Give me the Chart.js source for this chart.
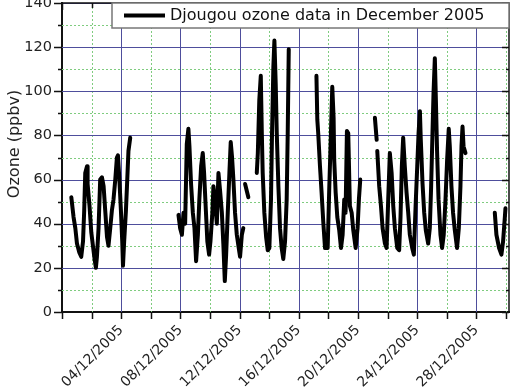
<!DOCTYPE html>
<html>
<head>
<meta charset="utf-8">
<script src="https://cdn.jsdelivr.net/npm/chart.js@4.4.1/dist/chart.umd.min.js"></script>
<style>
  html, body { margin: 0; padding: 0; background: #fff; }
  #wrap { width: 516px; height: 388px; }
</style>
</head>
<body>
<div id="wrap"><canvas id="chart"></canvas></div>
<script>
// day of December 2005 (0 = start of the axis), ozone in ppbv; null = no data
const days = [
  0.63, 0.78, 0.90, 1.01, 1.17, 1.30, 1.42, 1.50, 1.57, 1.69, 1.73, 1.86, 1.98, 2.09, 2.20,
  2.29, 2.36, 2.47, 2.58, 2.70, 2.81, 2.92, 3.04, 3.14, 3.26, 3.37, 3.48, 3.60, 3.71, 3.78,
  3.87, 3.98, 4.07, 4.12, 4.20, 4.32, 4.39, 4.49, 4.61,
  6.20,
  7.87, 7.98, 8.10, 8.21, 8.32, 8.43, 8.54, 8.61, 8.72, 8.84, 8.95, 9.06, 9.18, 9.28, 9.40,
  9.51, 9.60, 9.72, 9.82, 9.94, 10.03, 10.16, 10.23, 10.34, 10.46, 10.57, 10.68, 10.80, 10.90,
  11.00, 11.09, 11.20, 11.31, 11.40, 11.49, 11.58, 11.69, 11.81, 11.94, 12.03, 12.15, 12.25,
  12.31,
  12.37, 12.59,
  12.90,
  13.16, 13.23, 13.33, 13.43, 13.50, 13.56, 13.67, 13.79, 13.90, 14.01, 14.12, 14.19, 14.28,
  14.35, 14.44, 14.51, 14.62, 14.73, 14.84, 14.95, 15.07, 15.18, 15.25, 15.32,
  16.20,
  17.19, 17.25, 17.31, 17.43, 17.54, 17.65, 17.77, 17.95, 18.06, 18.17, 18.26, 18.35, 18.39,
  18.49, 18.60, 18.73, 18.85, 18.96, 19.07, 19.16, 19.25, 19.34, 19.45, 19.57, 19.68, 19.84,
  19.97, 20.06, 20.15,
  20.60,
  21.14, 21.26,
  21.28,
  21.30, 21.43, 21.55, 21.66, 21.82, 21.93, 22.04, 22.15, 22.27, 22.38, 22.49, 22.65, 22.78,
  22.87, 22.96, 23.05, 23.16, 23.28, 23.39, 23.50, 23.66, 23.77, 23.89, 24.00, 24.09, 24.18,
  24.24, 24.36, 24.47, 24.58, 24.74, 24.85, 24.94, 25.03, 25.10, 25.19, 25.26, 25.34, 25.44,
  25.57, 25.68, 25.79, 25.91, 26.02, 26.13, 26.20, 26.31, 26.42, 26.54, 26.69, 26.81, 26.92,
  26.99, 27.06, 27.13, 27.26,
  28.20,
  29.24, 29.35, 29.53, 29.69, 29.80, 29.92, 29.96
];
const ozone = [
  52, 43, 38, 31, 27, 25, 32, 46, 63, 66, 58, 48, 36, 30, 24,
  20, 25, 38, 60, 61, 57, 46, 34, 30, 38, 46, 51, 60, 70, 71,
  61, 46, 32, 21, 32, 46, 57, 73, 79,
  null,
  44, 38, 35, 45, 40, 76, 83, 75, 58, 45, 38, 23, 35, 51, 66,
  72, 63, 46, 32, 26, 32, 45, 57, 51, 40, 63, 55, 45, 31,
  14, 26, 45, 63, 77, 70, 60, 45, 35, 29, 25, 35, 38,
  null,
  58, 52,
  null,
  63, 72, 96, 107, 81, 63, 45, 34, 28, 29, 51, 81, 111,
  123, 103, 81, 57, 38, 29, 24, 32, 51, 81, 119,
  null,
  107, 87, 81, 66, 54, 41, 29, 29, 57, 81, 102, 88, 69,
  54, 43, 37, 29, 35, 51, 45, 82, 81, 48, 45, 37, 29,
  38, 51, 60,
  null,
  88, 78,
  null,
  73, 57, 48, 38, 31, 29, 51, 72, 63, 48, 38, 29, 28,
  43, 66, 79, 66, 54, 45, 35, 29, 26, 48, 66, 81, 91,
  78, 58, 45, 37, 31, 38, 57, 81, 99, 115, 96, 73, 51,
  35, 29, 35, 51, 69, 83, 75, 57, 45, 37, 29, 38, 57,
  75, 84, 75, 72,
  null,
  45, 35, 29, 26, 32, 43, 47
];
const seriesLabel = 'Djougou ozone data in December 2005';
const yTitle = 'Ozone (ppbv)';
const majorDayStep = 4;
const majorOzoneStep = 20;

const majorGrid = '#4e4e9c';
const minorGrid = '#7fcc7f';
const clear = 'rgba(0,0,0,0)';

function isMajor(v, step) {
  return Math.round(v) % step === 0;
}

function dayLabel(v) {
  if (v === 0 || !isMajor(v, majorDayStep)) return '';
  return String(Math.round(v)).padStart(2, '0') + '/12/2005';
}

function crisp(p) {
  return Math.round(p) + 0.5;
}

// grid: solid blue at labelled ticks, dotted green half way between
const gridPlugin = {
  id: 'gridLines',
  beforeDatasetsDraw(chart) {
    const { ctx, chartArea: a, scales: { x, y } } = chart;
    ctx.save();
    ctx.lineWidth = 1;
    [false, true].forEach(major => {
      ctx.strokeStyle = major ? majorGrid : minorGrid;
      ctx.setLineDash(major ? [] : [2, 2]);
      ctx.beginPath();
      x.ticks.forEach(t => {
        if (isMajor(t.value, majorDayStep) !== major || t.value === 0) return;
        const px = crisp(x.getPixelForValue(t.value));
        ctx.moveTo(px, a.top);
        ctx.lineTo(px, a.bottom);
      });
      y.ticks.forEach(t => {
        if (isMajor(t.value, majorOzoneStep) !== major || t.value === 0) return;
        const py = crisp(y.getPixelForValue(t.value));
        ctx.moveTo(a.left, py);
        ctx.lineTo(a.right, py);
      });
      ctx.stroke();
    });
    ctx.restore();
  }
};

const framePlugin = {
  id: 'frame',
  afterDraw(chart) {
    const { ctx, chartArea: a, scales: { x, y } } = chart;
    ctx.save();
    ctx.setLineDash([]);
    ctx.strokeStyle = '#111';
    ctx.lineWidth = 1.5;
    ctx.beginPath();
    ctx.moveTo(a.left, a.top);
    ctx.lineTo(a.right, a.top);
    ctx.lineTo(a.right, a.bottom);
    ctx.stroke();

    // tick marks: outward on the left and bottom, inward on the top and right
    ctx.beginPath();
    y.ticks.forEach(t => {
      const py = crisp(y.getPixelForValue(t.value));
      const len = isMajor(t.value, majorOzoneStep) ? 8 : 4;
      ctx.moveTo(a.left - len, py);
      ctx.lineTo(a.left, py);
      ctx.moveTo(a.right, py);
      ctx.lineTo(a.right - len + 1, py);
    });
    x.ticks.forEach(t => {
      const px = crisp(x.getPixelForValue(t.value));
      ctx.moveTo(px, a.bottom);
      ctx.lineTo(px, a.bottom + 7);
      ctx.moveTo(px, a.top);
      ctx.lineTo(px, a.top + (isMajor(t.value, majorDayStep) ? 7 : 5));
    });
    ctx.stroke();

    // y axis title, a little above the middle as in the original
    ctx.fillStyle = '#222';
    ctx.font = '16px "DejaVu Sans"';
    ctx.textAlign = 'center';
    ctx.textBaseline = 'middle';
    ctx.save();
    ctx.translate(15, 144);
    ctx.rotate(-Math.PI / 2);
    ctx.fillText(yTitle, 0, 0);
    ctx.restore();

    // legend box in the top right corner
    const lx = a.left + 50, ly = a.top, lw = a.right - lx, lh = 25;
    ctx.fillStyle = '#fff';
    ctx.fillRect(lx, ly, lw, lh);
    ctx.strokeStyle = '#777';
    ctx.lineWidth = 1.5;
    ctx.strokeRect(lx, ly, lw, lh);
    ctx.strokeStyle = '#000';
    ctx.lineWidth = 4;
    ctx.beginPath();
    ctx.moveTo(lx + 12, ly + 12.5);
    ctx.lineTo(lx + 53, ly + 12.5);
    ctx.stroke();
    ctx.fillStyle = '#111';
    ctx.textAlign = 'left';
    ctx.fillText(chart.data.datasets[0].label, lx + 58, ly + 13);
    ctx.restore();
  }
};

new Chart(document.getElementById('chart'), {
  type: 'line',
  data: {
    datasets: [{
      label: seriesLabel,
      data: days.map((d, i) => ({ x: d, y: ozone[i] })),
      borderColor: '#000',
      borderWidth: 4,
      borderJoinStyle: 'round',
      borderCapStyle: 'round',
      pointRadius: 0,
      tension: 0,
      spanGaps: false,
    }],
  },
  options: {
    responsive: true,
    maintainAspectRatio: false,
    animation: false,
    layout: { padding: { top: 3, right: 7, left: 0, bottom: 0 } },
    plugins: {
      legend: { display: false },
      tooltip: { enabled: false },
    },
    scales: {
      x: {
        type: 'linear',
        min: 0,
        max: 30.2,
        afterFit(scale) {
          scale.height = 76;
          scale.paddingLeft = 0;
          scale.paddingRight = 0;
        },
        ticks: {
          stepSize: 2,
          includeBounds: false,
          autoSkip: false,
          minRotation: 45,
          maxRotation: 45,
          padding: 3,
          color: '#222',
          font: { family: '"DejaVu Sans"', size: 14 },
          callback: v => dayLabel(v),
        },
        grid: { drawOnChartArea: false, tickLength: 7, tickColor: clear },
        border: { color: '#111', width: 2 },
      },
      y: {
        min: 0,
        max: 140,
        afterFit(scale) {
          scale.width = 62;
          scale.paddingTop = 0;
          scale.paddingBottom = 0;
        },
        ticks: {
          stepSize: 10,
          padding: 2,
          color: '#222',
          font: { family: '"DejaVu Sans"', size: 14.5 },
          callback: v => (isMajor(v, majorOzoneStep) ? String(Math.round(v)) : ''),
        },
        grid: { drawOnChartArea: false, tickLength: 8, tickColor: clear },
        border: { color: '#111', width: 2 },
      },
    },
  },
  plugins: [gridPlugin, framePlugin],
});
</script>
</body>
</html>
